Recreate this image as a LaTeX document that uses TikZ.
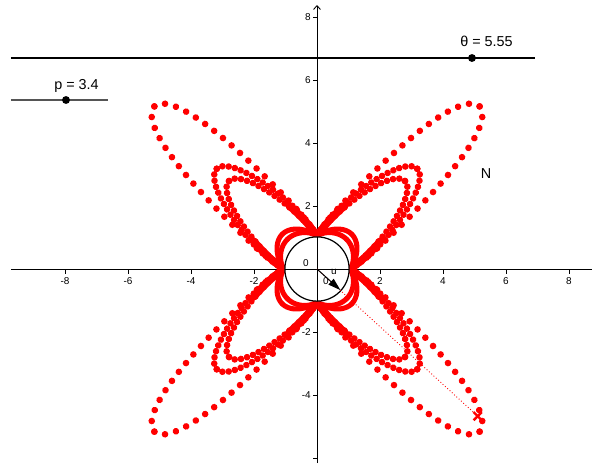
\documentclass[tikz,border=0pt]{standalone}
\usepackage{fontspec}
\setmainfont{Liberation Sans}
\usetikzlibrary{decorations.markings,arrows.meta,calc}
\definecolor{ggred}{RGB}{255,0,0}
\definecolor{slidergray}{RGB}{85,85,85}
\tikzset{
  petaldots/.style={decorate, decoration={markings, mark=between positions 0 and 1 step #1 with {\fill[ggred] (0,0) circle (0.105);}}},
  lobe/.style={draw=ggred, line width=0.16cm, line cap=round, line join=round},
  band/.style={draw=ggred, line width=0.24cm, line cap=round, line join=round},
  axisline/.style={line width=0.8pt, black},
  ticklab/.style={font=\fontsize{9}{10}\selectfont, inner sep=0pt},
  biglab/.style={font=\fontsize{13}{15}\selectfont, inner sep=0pt},
  smalllab/.style={font=\fontsize{9}{10}\selectfont, inner sep=0pt},
}
% #1 R, #2 Bm, #3 exponent, #4 style, #5 domain start
\newcommand\petalhalf[5]{%
  \path[#4] plot[domain=#5:90, samples=150, variable=\w]
   ({#1-(#1-0.74)*sin(\w)^2},
    {(#2-(#2-0.74)*exp(-1.5*(#1-0.74)*cos(\w)^2))*sqrt(abs(1-cos(\w)^#3))});
}
\newcommand\petalloop[5]{%
  \petalhalf{#1}{#2}{#3}{#4}{#5}%
  \begin{scope}[yscale=-1]\petalhalf{#1}{#2}{#3}{#4}{#5}\end{scope}%
}
\newcommand\superell{(0,0) circle (1.02)}
\begin{document}
\begin{tikzpicture}[x=1cm,y=1cm]
\useasboundingbox (-10.063,-6.159) rectangle (8.730,8.540);
% sliders
\coordinate (ta) at (-9.714,6.698);
\coordinate (tb) at (6.921,6.698);
\coordinate (pa) at (-9.714,5.365);
\coordinate (pb) at (-6.635,5.365);
\draw[black, line width=1.2pt] (ta) -- (tb);
\fill[black] (4.92,6.698) circle (0.125);
\node[biglab, anchor=base] (thetalab) at (5.381,7.05) {θ = 5.55};
\draw[slidergray, line width=1.2pt] (pa) -- (pb);
\fill[black] (-7.968,5.365) circle (0.125);
\node[biglab, anchor=base] (plab) at (-7.635,5.683) {p = 3.4};
% axes
\coordinate (xa) at (-9.71,0);
\coordinate (xb) at (8.73,0);
\coordinate (ya) at (0,-6.16);
\coordinate (yb) at (0,8.38);
\draw[axisline] (xa) -- (xb);
\draw[axisline, -{Straight Barb[length=1.2mm,width=2.2mm]}] (ya) -- (yb);
\foreach \x [count=\i] in {-8,-6,-4,-2,2,4,6,8} {
  \draw[axisline] (\x,0) -- (\x,-0.16);
  \node[ticklab, anchor=north] (xt\i) at (\x,-0.27) {\x};
}
\foreach \y [count=\i] in {8,6,4,2,-2,-4} {
  \draw[axisline] (0,\y) -- (-0.13,\y);
  \node[ticklab, anchor=east] (yt\i) at (-0.19,\y) {\y};
}
\draw[axisline] (0,-6) -- (-0.13,-6);
% traced curves
\foreach \a in {45,135,225,315} {
  \begin{scope}[rotate=\a]
    \petalloop{1.56}{0.74}{3}{lobe}{0}
    \petalloop{1.33}{0.74}{3}{lobe}{0}
    \petalloop{4.2}{0.88}{4}{band}{52}
    \petalloop{7.3}{0.92}{8}{petaldots=0.36cm}{0}
    \petalloop{4.5}{0.95}{4}{petaldots=0.2cm}{0}
    \petalloop{3.95}{0.85}{4}{petaldots=0.2cm}{0}
  \end{scope}
}
% black closed curve
\fill[white] \superell;
\begin{scope}
  \clip \superell;
  \draw[axisline] (-1.5,0) -- (1.5,0);
  \draw[axisline] (0,-1.5) -- (0,1.5);
\end{scope}
\draw[black, line width=1.1pt] \superell;
\node[ticklab] (olab) at (-0.35,0.19) {0};
% vector u and point N
\coordinate (O) at (0,0);
\coordinate (U) at (0.7431,-0.6692);
\coordinate (Npt) at (5.10,-4.67);
\coordinate (M) at (2.79,-2.17);
\draw[ggred, dotted, line width=0.8pt] (O) -- (Npt);
\node[smalllab] (zlab) at (0.28,-0.37) {0};
\draw[black, line width=0.9pt, -{Triangle[length=4mm,width=2.4mm]}] (O) -- (U);
\node[smalllab] (ulab) at (0.54,-0.1) {u};
\draw[ggred, line width=2.2pt] ($(Npt)+(-0.13,-0.13)$) -- ($(Npt)+(0.13,0.13)$);
\draw[ggred, line width=2.2pt] ($(Npt)+(-0.13,0.13)$) -- ($(Npt)+(0.13,-0.13)$);
\draw[ggred, line width=0.8pt] ($(M)+(-0.08,0.1)$) -- ($(M)+(0.08,-0.1)$);
\draw[ggred, line width=0.8pt] ($(M)+(0.08,0.1)$) -- ($(M)+(-0.08,-0.1)$);
\node[biglab, anchor=base] (nlab) at (5.365,2.879) {N};
\end{tikzpicture}
\end{document}
